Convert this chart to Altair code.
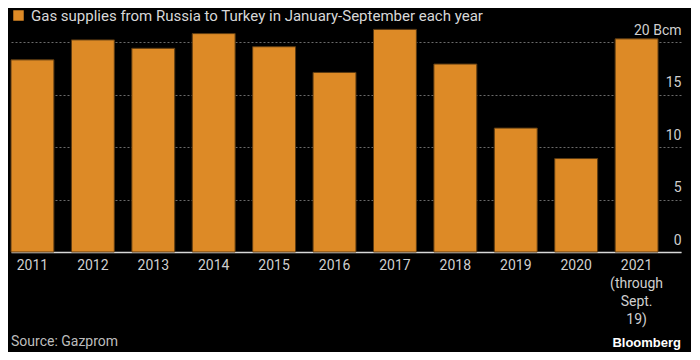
import altair as alt
import pandas as pd

years = ["2011", "2012", "2013", "2014", "2015", "2016", "2017", "2018", "2019", "2020", "2021"]
values = [18.3, 20.2, 19.4, 20.8, 19.55, 17.1, 21.2, 17.9, 11.8, 8.9, 20.3]
series_name = "Gas supplies from Russia to Turkey in January-September each year"
last_label_lines = ["2021", "(through", "Sept.", "19)"]
y_ticks = [0, 5, 10, 15, 20]
unit = "Bcm"
source_text = "Source: Gazprom"
brand_text = "Bloomberg"

df = pd.DataFrame({"year": years, "value": values, "series": [series_name] * len(years)})

lines_js = "[" + ",".join("'" + s + "'" for s in last_label_lines) + "]"
label_font = "Liberation Sans Narrow, Roboto, DejaVu Sans, sans-serif"

bars = alt.Chart(df).mark_bar(stroke="#5c3b12", strokeWidth=1).encode(
    x=alt.X(
        "year:N",
        sort=years,
        scale=alt.Scale(paddingInner=0.29, paddingOuter=0.19, align=0),
        axis=alt.Axis(
            title=None,
            labelAngle=0,
            labelColor="#cfcfcf",
            labelFontSize=14,
            labelFont=label_font,
            labelPadding=6,
            labelLineHeight=18,
            labelBaseline="top",
            labelExpr=f"datum.value == '{years[-1]}' ? {lines_js} : datum.label",
            ticks=False,
            domainColor="#d8d8d8",
            domainWidth=1.5,
            grid=False,
        ),
    ),
    y=alt.Y(
        "value:Q",
        scale=alt.Scale(domain=[0, 22], nice=False),
        axis=alt.Axis(
            title=None,
            orient="right",
            values=y_ticks,
            labelExpr=f"datum.value == {y_ticks[-1]} ? datum.label + ' {unit}' : datum.label",
            labelAlign="right",
            labelBaseline="alphabetic",
            labelOffset=-8,
            labelPadding=0,
            tickSize=0,
            ticks=False,
            domain=False,
            labelColor="#cfcfcf",
            labelFontSize=14,
            labelFont=label_font,
            grid=True,
            gridColor="#6a6a6a",
            gridDash=[2, 2],
            gridWidth=1,
        ),
    ),
    color=alt.Color(
        "series:N",
        scale=alt.Scale(range=["#dd8a26"]),
        legend=alt.Legend(
            title=None,
            orient="none",
            legendX=0,
            legendY=-13,
            symbolType="square",
            symbolSize=110,
            symbolStrokeWidth=0,
            labelColor="#d8d8d8",
            labelFontSize=15,
            labelFont=label_font,
            labelLimit=800,
            padding=0,
            labelOffset=5,
        ),
    ),
)

foot_df = pd.DataFrame({"t": [source_text]})
source = alt.Chart(foot_df).mark_text(
    align="left", baseline="middle", color="#bdbdbd", fontSize=14, font=label_font
).encode(text="t:N", x=alt.value(0), y=alt.value(321))

brand_df = pd.DataFrame({"t": [brand_text]})
brand = alt.Chart(brand_df).mark_text(
    align="right", baseline="middle", color="#ffffff", fontSize=13, fontWeight="bold",
    font="Liberation Sans, Arial, sans-serif"
).encode(text="t:N", x=alt.value(670), y=alt.value(322))

chart = alt.layer(bars, source, brand).properties(
    width=670,
    height=231,
    background="#000000",
    autosize=alt.AutoSizeParams(type="none"),
    padding={"left": 3, "top": 13, "right": 10, "bottom": 100},
).configure_view(stroke=None)

chart.save("out.html", embed_options={"renderer": "svg", "actions": False})
